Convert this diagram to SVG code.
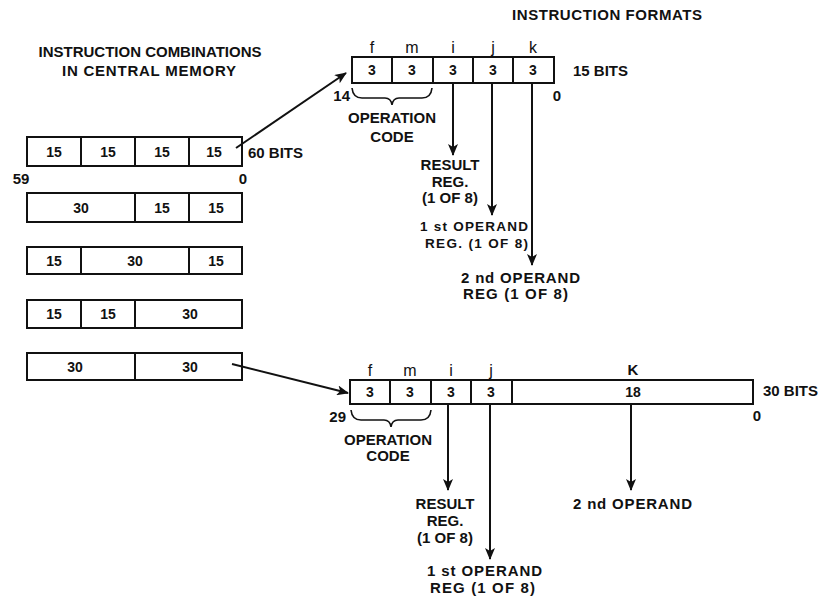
<svg xmlns="http://www.w3.org/2000/svg" width="827" height="596" viewBox="0 0 827 596">
<style>
text{font-family:"Liberation Sans",Arial,sans-serif;font-weight:bold;font-size:15px;fill:#111}
.c{text-anchor:middle}
.e{text-anchor:end}
.d{font-size:14px}
.s{font-size:13.5px}
.lc{font-size:16px;font-weight:normal}
.box{fill:none;stroke:#111;stroke-width:2}
.ln{fill:none;stroke:#111;stroke-width:2}
.br{fill:none;stroke:#111;stroke-width:1.6}
</style>
<defs>
<marker id="ah" viewBox="0 0 12 10" refX="11" refY="5" markerWidth="12" markerHeight="10" markerUnits="userSpaceOnUse" orient="auto">
<path d="M0,0 L12,5 L0,10 L3,5 Z" fill="#111"/>
</marker>
</defs>
<rect width="827" height="596" fill="#fff"/>

<g id="title-left">
<text class="c" x="150" y="57" textLength="223" lengthAdjust="spacing">INSTRUCTION COMBINATIONS</text>
<text class="c" x="149" y="76" textLength="174" lengthAdjust="spacing">IN CENTRAL MEMORY</text>
</g>
<g id="title-right">
<text x="512" y="20" textLength="190" lengthAdjust="spacing">INSTRUCTION FORMATS</text>
</g>

<g id="word-15-15-15-15">
<rect class="box" x="27" y="137" width="215" height="29"/>
<path class="ln" d="M81,137V166M135,137V166M189,137V166"/>
<text class="c d" x="54" y="157">15</text>
<text class="c d" x="108" y="157">15</text>
<text class="c d" x="162" y="157">15</text>
<text class="c d" x="214" y="157">15</text>
<text x="248" y="158">60 BITS</text>
<text class="c" x="21" y="184">59</text>
<text class="c" x="243" y="184">0</text>
</g>
<g id="word-30-15-15">
<rect class="box" x="27" y="193" width="215" height="29"/>
<path class="ln" d="M135,193V222M189,193V222"/>
<text class="c d" x="81" y="213">30</text>
<text class="c d" x="162" y="213">15</text>
<text class="c d" x="216" y="213">15</text>
</g>
<g id="word-15-30-15">
<rect class="box" x="27" y="247" width="215" height="27"/>
<path class="ln" d="M81,247V274M189,247V274"/>
<text class="c d" x="54" y="266">15</text>
<text class="c d" x="135" y="266">30</text>
<text class="c d" x="216" y="266">15</text>
</g>
<g id="word-15-15-30">
<rect class="box" x="27" y="300" width="215" height="28"/>
<path class="ln" d="M81,300V328M135,300V328"/>
<text class="c d" x="54" y="319">15</text>
<text class="c d" x="108" y="319">15</text>
<text class="c d" x="190" y="319">30</text>
</g>
<g id="word-30-30">
<rect class="box" x="27" y="353" width="215" height="27"/>
<path class="ln" d="M135,353V380"/>
<text class="c d" x="75" y="372">30</text>
<text class="c d" x="190" y="372">30</text>
</g>

<g id="format-15">
<rect class="box" x="352" y="57" width="202" height="26"/>
<path class="ln" d="M392,57V83M433,57V83M473,57V83M513,57V83"/>
<text class="c lc" x="372" y="53">f</text>
<text class="c lc" x="412" y="53">m</text>
<text class="c lc" x="453" y="53">i</text>
<text class="c lc" x="493" y="53">j</text>
<text class="c lc" x="533" y="53">k</text>
<text class="c d" x="372" y="75">3</text>
<text class="c d" x="412" y="75">3</text>
<text class="c d" x="453" y="75">3</text>
<text class="c d" x="493" y="75">3</text>
<text class="c d" x="533" y="75">3</text>
<text x="573" y="76">15 BITS</text>
<text class="e" x="350" y="101">14</text>
<text class="c" x="557" y="101">0</text>
<path class="br" d="M352,88 Q353,98 362,98 L385,98 Q391,98 392,105 Q393,98 399,98 L422,98 Q431,98 432,88"/>
<text class="c" x="392" y="123">OPERATION</text>
<text class="c" x="392" y="142">CODE</text>
</g>
<g id="label-15-result">
<text class="c" x="450" y="170">RESULT</text>
<text class="c" x="450" y="187">REG.</text>
<text class="c" x="450" y="203">(1 OF 8)</text>
</g>
<g id="label-15-op1">
<text class="s" x="420" y="231" textLength="108" lengthAdjust="spacing">1 st OPERAND</text>
<text class="s" x="425" y="248" textLength="103" lengthAdjust="spacing">REG. (1 OF 8)</text>
</g>
<g id="label-15-op2">
<text x="461" y="283" textLength="119" lengthAdjust="spacing">2 nd OPERAND</text>
<text x="463" y="299" textLength="105" lengthAdjust="spacing">REG (1 OF 8)</text>
</g>

<g id="format-30">
<rect class="box" x="350" y="380" width="403" height="24"/>
<path class="ln" d="M390,380V404M431,380V404M471,380V404M512,380V404"/>
<text class="c lc" x="370" y="376">f</text>
<text class="c lc" x="410" y="376">m</text>
<text class="c lc" x="451" y="376">i</text>
<text class="c lc" x="491" y="376">j</text>
<text class="c" x="633" y="375">K</text>
<text class="c d" x="370" y="397">3</text>
<text class="c d" x="410" y="397">3</text>
<text class="c d" x="451" y="397">3</text>
<text class="c d" x="491" y="397">3</text>
<text class="c d" x="633" y="397">18</text>
<text x="763" y="396">30 BITS</text>
<text class="e" x="346" y="422">29</text>
<text class="c" x="757" y="421">0</text>
<path class="br" d="M351,410 Q352,420 361,420 L384,420 Q390,420 391,427 Q392,420 398,420 L421,420 Q430,420 431,410"/>
<text class="c" x="388" y="445">OPERATION</text>
<text class="c" x="388" y="461">CODE</text>
</g>
<g id="label-30-result">
<text class="c" x="445" y="509">RESULT</text>
<text class="c" x="445" y="526">REG.</text>
<text class="c" x="445" y="543">(1 OF 8)</text>
</g>
<g id="label-30-op2">
<text x="573" y="509" textLength="119" lengthAdjust="spacing">2 nd OPERAND</text>
</g>
<g id="label-30-op1">
<text x="427" y="576" textLength="115" lengthAdjust="spacing">1 st OPERAND</text>
<text x="430" y="593" textLength="105" lengthAdjust="spacing">REG (1 OF 8)</text>
</g>

<g id="connectors">
<path class="ln" d="M236,148 L346,73" marker-end="url(#ah)"/>
<path class="ln" d="M232,364 L348,393" marker-end="url(#ah)"/>
<path class="ln" d="M453,83 V155" marker-end="url(#ah)"/>
<path class="ln" d="M492,83 V215" marker-end="url(#ah)"/>
<path class="ln" d="M532,83 V265" marker-end="url(#ah)"/>
<path class="ln" d="M448,404 V490" marker-end="url(#ah)"/>
<path class="ln" d="M490,404 V559" marker-end="url(#ah)"/>
<path class="ln" d="M631,404 V490" marker-end="url(#ah)"/>
</g>
</svg>
